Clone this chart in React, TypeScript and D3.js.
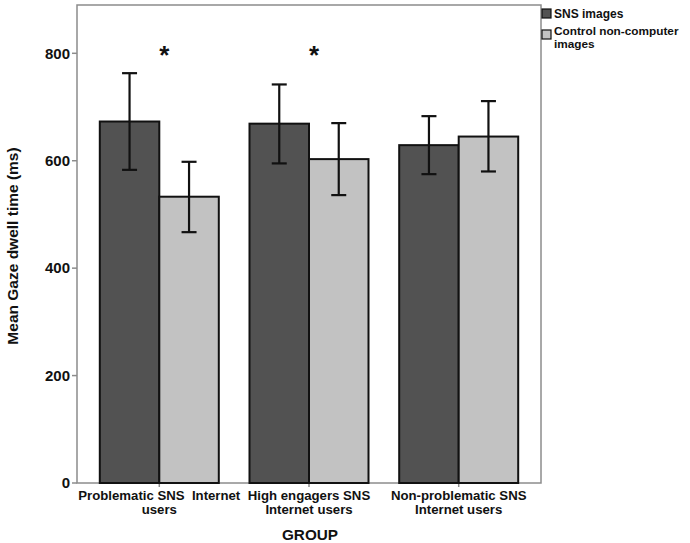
import React from "react";
import * as d3 from "d3";

const groups = ["Problematic SNS Internet users", "High engagers SNS Internet users", "Non-problematic SNS Internet users"];
const groupLines = [["Problematic SNS  Internet", "users"], ["High engagers SNS", "Internet users"], ["Non-problematic SNS", "Internet users"]];
const series = ["SNS images", "Control non-computer images"];
const seriesColors = ["#525252", "#c2c2c2"];
const meanSNS = [673, 669, 629];
const meanControl = [533, 603, 645];
const lowSNS = [583, 595, 575];
const highSNS = [763, 742, 683];
const lowControl = [467, 536, 580];
const highControl = [598, 670, 711];
const significant = [true, true, false];
const yTicks = [0, 200, 400, 600, 800];

const FONT = "'Liberation Sans', Arial, Helvetica, sans-serif";

export default function App() {
  const W = 690, H = 543;
  const left = 77, right = 541, top = 5, bottom = 483;
  const y = d3.scaleLinear().domain([0, 800]).range([bottom, 53.3]);
  const xc = d3.scalePoint<string>().domain(groups).range([159.3, 458.7]);
  const xs = d3.scaleBand<string>().domain(series).range([-59.5, 59.5]).padding(0);
  const means = [meanSNS, meanControl];
  const lows = [lowSNS, lowControl];
  const highs = [highSNS, highControl];

  return (
    <svg width={W} height={H} style={{ position: "absolute", left: 0, top: 0, background: "#fff" }} fontFamily={FONT}>
      <rect x={0} y={0} width={W} height={H} fill="#fff" />
      {/* frame */}
      <rect x={left} y={top} width={right - left} height={bottom - top} fill="none" stroke="#8c8c8c" strokeWidth={1.5} />
      {/* y ticks */}
      {yTicks.map((t) => (
        <g key={t}>
          <line x1={left - 5} x2={left} y1={y(t)} y2={y(t)} stroke="#8c8c8c" strokeWidth={1.5} />
          <text x={70} y={y(t)} dy="0.35em" textAnchor="end" fontSize={15} fontWeight="bold" fill="#111">{t}</text>
        </g>
      ))}
      {/* x ticks */}
      {groups.map((g) => (
        <line key={g} x1={xc(g)!} x2={xc(g)!} y1={bottom} y2={bottom + 4} stroke="#8c8c8c" strokeWidth={1.5} />
      ))}
      {/* bars */}
      {groups.map((g, gi) => (
        <g key={g}>
          {series.map((s, si) => {
            const x0 = xc(g)! + xs(s)!;
            const v = means[si][gi];
            return (
              <rect key={s} x={x0} y={y(v)} width={xs.bandwidth()} height={y(0) - y(v)} fill={seriesColors[si]} stroke="#111" strokeWidth={2} />
            );
          })}
        </g>
      ))}
      {/* error bars */}
      {groups.map((g, gi) => (
        <g key={g + "e"}>
          {series.map((s, si) => {
            const cx = xc(g)! + xs(s)! + xs.bandwidth() / 2;
            const lo = y(lows[si][gi]);
            const hi = y(highs[si][gi]);
            return (
              <g key={s} stroke="#111" strokeWidth={2.2}>
                <line x1={cx} x2={cx} y1={lo} y2={hi} />
                <line x1={cx - 7.5} x2={cx + 7.5} y1={lo} y2={lo} />
                <line x1={cx - 7.5} x2={cx + 7.5} y1={hi} y2={hi} />
              </g>
            );
          })}
        </g>
      ))}
      {/* significance stars */}
      {groups.map((g, gi) =>
        significant[gi] ? (
          <text key={g + "s"} x={xc(g)! + 5} y={y(815)} dy="0.72em" textAnchor="middle" fontSize={26} fontWeight="bold" fill="#111">*</text>
        ) : null
      )}
      {/* x labels */}
      {groups.map((g, gi) => (
        <text key={g + "l"} textAnchor="middle" fontSize={13.2} fontWeight="bold" fill="#111">
          {groupLines[gi].map((ln, li) => (
            <tspan key={li} x={xc(g)!} y={499.5 + li * 14.5} style={{ whiteSpace: "pre" }}>{ln}</tspan>
          ))}
        </text>
      ))}
      <text x={310} y={540} textAnchor="middle" fontSize={15.3} fontWeight="bold" fill="#111">GROUP</text>
      <text transform={`translate(17.5,246) rotate(-90)`} textAnchor="middle" fontSize={15.5} fontWeight="bold" fill="#111">Mean Gaze dwell time (ms)</text>
      {/* legend */}
      <rect x={542} y={9} width={9} height={9} fill={seriesColors[0]} stroke="#111" strokeWidth={1.2} />
      <text x={554} y={17.5} fontSize={12} fontWeight="bold" fill="#111">SNS images</text>
      <rect x={542} y={30} width={9} height={9} fill={seriesColors[1]} stroke="#111" strokeWidth={1.2} />
      <text x={554} y={34.5} fontSize={11.8} fontWeight="bold" fill="#111">Control non-computer</text>
      <text x={554} y={47.5} fontSize={11.8} fontWeight="bold" fill="#111">images</text>
    </svg>
  );
}
